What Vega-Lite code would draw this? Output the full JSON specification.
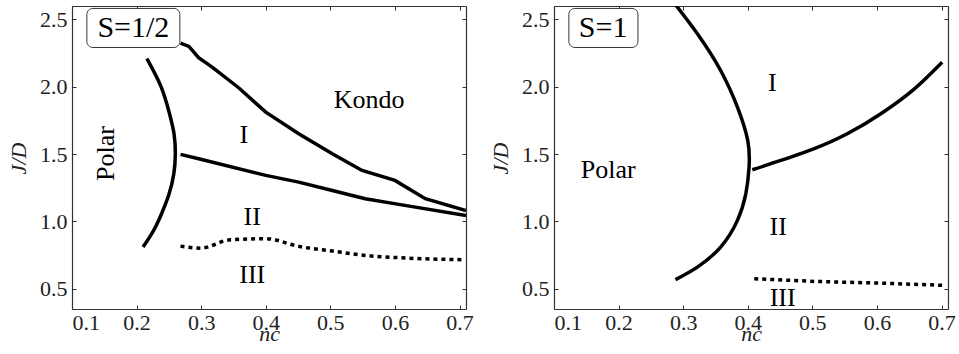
{
  "$schema": "https://vega.github.io/schema/vega-lite/v6.json",
  "padding": {"left": 7, "top": 5, "right": 0, "bottom": 0},
  "background": "white",
  "spacing": 15,
  "config": {
    "view": {"stroke": null},
    "font": "Liberation Serif",
    "style": {"guide-label": {"font": "Liberation Serif"}, "guide-title": {"font": "Liberation Serif"}},
    "axis": {
      "grid": false,
      "domainColor": "#333",
      "domainWidth": 1.2,
      "tickColor": "#333",
      "tickSize": -4,
      "tickWidth": 1,
      "labelFont": "Liberation Serif",
      "labelFontSize": 22,
      "labelColor": "#222",
      "titleFont": "Liberation Serif",
      "titleFontStyle": "italic",
      "titleFontWeight": "normal",
      "titleFontSize": 22,
      "titleColor": "#222"
    }
  },
  "hconcat": [
    {
      "width": 394,
      "height": 303,
      "resolve": {"axis": {"x": "independent", "y": "independent"}},
      "layer": [
        {
          "data": {"values": [
            {"curve": "A", "i": 1, "x": 0.216, "y": 2.21},
            {"curve": "A", "i": 2, "x": 0.238, "y": 2.0},
            {"curve": "A", "i": 3, "x": 0.251, "y": 1.8},
            {"curve": "A", "i": 4, "x": 0.258, "y": 1.65},
            {"curve": "A", "i": 5, "x": 0.26, "y": 1.50},
            {"curve": "A", "i": 6, "x": 0.2575, "y": 1.35},
            {"curve": "A", "i": 7, "x": 0.25, "y": 1.2},
            {"curve": "A", "i": 8, "x": 0.238, "y": 1.05},
            {"curve": "A", "i": 9, "x": 0.226, "y": 0.93},
            {"curve": "A", "i": 10, "x": 0.21, "y": 0.81}
          ]},
          "mark": {"type": "line", "color": "black", "strokeWidth": 3.5, "interpolate": "natural", "clip": true},
          "encoding": {
            "x": {"field": "x", "type": "quantitative", "scale": {"domain": [0.1, 0.71], "nice": false, "zero": false},
                  "axis": {"orient": "bottom", "values": [0.1, 0.2, 0.3, 0.4, 0.5, 0.6, 0.7], "format": ".1f", "labelPadding": 7, "labelFontSize": 22, "labelFont": "Liberation Serif", "titleFont": "Liberation Serif", "title": "nc", "titleBaseline": "alphabetic", "titleY": 31, "titleX": 197}},
            "y": {"field": "y", "type": "quantitative", "scale": {"domain": [0.35, 2.6], "nice": false, "zero": false},
                  "axis": {"orient": "left", "values": [0.5, 1.0, 1.5, 2.0, 2.5], "format": ".1f", "labelPadding": 9, "labelFontSize": 22, "labelFont": "Liberation Serif", "titleFont": "Liberation Serif", "title": "J/D", "titleBaseline": "alphabetic", "titleX": -47, "titleY": 152, "titleAngle": 270}},
            "order": {"field": "i", "type": "quantitative"}
          }
        },
        {
          "data": {"values": [
            {"curve": "B", "i": 1, "x": 0.268, "y": 2.324},
            {"curve": "B", "i": 2, "x": 0.281, "y": 2.30},
            {"curve": "B", "i": 3, "x": 0.296, "y": 2.216},
            {"curve": "B", "i": 4, "x": 0.317, "y": 2.146},
            {"curve": "B", "i": 5, "x": 0.358, "y": 1.993},
            {"curve": "B", "i": 6, "x": 0.40, "y": 1.812},
            {"curve": "B", "i": 7, "x": 0.451, "y": 1.651},
            {"curve": "B", "i": 8, "x": 0.503, "y": 1.503},
            {"curve": "B", "i": 9, "x": 0.549, "y": 1.379},
            {"curve": "B", "i": 10, "x": 0.60, "y": 1.305},
            {"curve": "B", "i": 11, "x": 0.647, "y": 1.169},
            {"curve": "B", "i": 12, "x": 0.71, "y": 1.08},
            {"curve": "C", "i": 1, "x": 0.268, "y": 1.498},
            {"curve": "C", "i": 2, "x": 0.296, "y": 1.466},
            {"curve": "C", "i": 3, "x": 0.40, "y": 1.342},
            {"curve": "C", "i": 4, "x": 0.451, "y": 1.292},
            {"curve": "C", "i": 5, "x": 0.503, "y": 1.23},
            {"curve": "C", "i": 6, "x": 0.554, "y": 1.169},
            {"curve": "C", "i": 7, "x": 0.606, "y": 1.127},
            {"curve": "C", "i": 8, "x": 0.71, "y": 1.044}
          ]},
          "mark": {"type": "line", "color": "black", "strokeWidth": 3.5, "clip": true},
          "encoding": {
            "x": {"field": "x", "type": "quantitative",
                  "axis": {"orient": "top", "values": [0.1, 0.2, 0.3, 0.4, 0.5, 0.6, 0.7], "labels": false, "title": null}},
            "y": {"field": "y", "type": "quantitative",
                  "axis": {"orient": "right", "values": [0.5, 1.0, 1.5, 2.0, 2.5], "labels": false, "title": null}},
            "detail": {"field": "curve"},
            "order": {"field": "i", "type": "quantitative"}
          }
        },
        {
          "data": {"values": [
            {"i": 1, "x": 0.268, "y": 0.817},
            {"i": 2, "x": 0.299, "y": 0.802},
            {"i": 3, "x": 0.345, "y": 0.864},
            {"i": 4, "x": 0.40, "y": 0.872},
            {"i": 5, "x": 0.451, "y": 0.815},
            {"i": 6, "x": 0.503, "y": 0.78},
            {"i": 7, "x": 0.554, "y": 0.748},
            {"i": 8, "x": 0.606, "y": 0.731},
            {"i": 9, "x": 0.705, "y": 0.716}
          ]},
          "mark": {"type": "line", "color": "black", "strokeWidth": 3.5, "strokeDash": [4, 4], "interpolate": "monotone", "clip": true},
          "encoding": {
            "x": {"field": "x", "type": "quantitative", "axis": null},
            "y": {"field": "y", "type": "quantitative", "axis": null},
            "order": {"field": "i", "type": "quantitative"}
          }
        },
        {
          "data": {"values": [{"x1": 0.123, "x2": 0.267, "y1": 2.292, "y2": 2.582}]},
          "mark": {"type": "rect", "fill": "white", "stroke": "#333", "strokeWidth": 1, "cornerRadius": 6},
          "encoding": {
            "x": {"field": "x1", "type": "quantitative", "axis": null},
            "x2": {"field": "x2"},
            "y": {"field": "y1", "type": "quantitative", "axis": null},
            "y2": {"field": "y2"}
          }
        },
        {
          "data": {"values": [{"label": "S=1/2", "x": 0.195, "y": 2.437}]},
          "mark": {"type": "text", "fontSize": 30, "color": "black", "align": "center", "baseline": "middle", "font": "Liberation Serif"},
          "encoding": {
            "x": {"field": "x", "type": "quantitative", "axis": null},
            "y": {"field": "y", "type": "quantitative", "axis": null},
            "text": {"field": "label"}
          }
        },
        {
          "data": {"values": [
            {"label": "Kondo", "x": 0.56, "y": 1.90},
            {"label": "I", "x": 0.366, "y": 1.64},
            {"label": "II", "x": 0.379, "y": 1.03},
            {"label": "III", "x": 0.379, "y": 0.60}
          ]},
          "mark": {"type": "text", "fontSize": 26, "color": "black", "align": "center", "baseline": "middle", "font": "Liberation Serif"},
          "encoding": {
            "x": {"field": "x", "type": "quantitative", "axis": null},
            "y": {"field": "y", "type": "quantitative", "axis": null},
            "text": {"field": "label"}
          }
        },
        {
          "data": {"values": [{"label": "Polar", "x": 0.153, "y": 1.505}]},
          "mark": {"type": "text", "fontSize": 26, "color": "black", "align": "center", "baseline": "middle", "angle": 270, "font": "Liberation Serif"},
          "encoding": {
            "x": {"field": "x", "type": "quantitative", "axis": null},
            "y": {"field": "y", "type": "quantitative", "axis": null},
            "text": {"field": "label"}
          }
        }
      ]
    },
    {
      "width": 394,
      "height": 303,
      "resolve": {"axis": {"x": "independent", "y": "independent"}},
      "layer": [
        {
          "data": {"values": [
            {"curve": "A", "i": 1, "x": 0.280, "y": 2.66},
            {"curve": "A", "i": 2, "x": 0.322, "y": 2.394},
            {"curve": "A", "i": 3, "x": 0.358, "y": 2.121},
            {"curve": "A", "i": 4, "x": 0.384, "y": 1.849},
            {"curve": "A", "i": 5, "x": 0.40, "y": 1.60},
            {"curve": "A", "i": 6, "x": 0.402, "y": 1.403},
            {"curve": "A", "i": 7, "x": 0.397, "y": 1.206},
            {"curve": "A", "i": 8, "x": 0.384, "y": 1.008},
            {"curve": "A", "i": 9, "x": 0.358, "y": 0.81},
            {"curve": "A", "i": 10, "x": 0.322, "y": 0.661},
            {"curve": "A", "i": 11, "x": 0.288, "y": 0.568}
          ]},
          "mark": {"type": "line", "color": "black", "strokeWidth": 3.5, "interpolate": "natural", "clip": true},
          "encoding": {
            "x": {"field": "x", "type": "quantitative", "scale": {"domain": [0.1, 0.71], "nice": false, "zero": false},
                  "axis": {"orient": "bottom", "values": [0.1, 0.2, 0.3, 0.4, 0.5, 0.6, 0.7], "format": ".1f", "labelPadding": 7, "labelFontSize": 22, "labelFont": "Liberation Serif", "titleFont": "Liberation Serif", "title": "nc", "titleBaseline": "alphabetic", "titleY": 31, "titleX": 197}},
            "y": {"field": "y", "type": "quantitative", "scale": {"domain": [0.35, 2.6], "nice": false, "zero": false},
                  "axis": {"orient": "left", "values": [0.5, 1.0, 1.5, 2.0, 2.5], "format": ".1f", "labelPadding": 9, "labelFontSize": 22, "labelFont": "Liberation Serif", "titleFont": "Liberation Serif", "title": "J/D", "titleBaseline": "alphabetic", "titleX": -47, "titleY": 152, "titleAngle": 270}},
            "order": {"field": "i", "type": "quantitative"}
          }
        },
        {
          "data": {"values": [
            {"i": 1, "x": 0.407, "y": 1.384},
            {"i": 2, "x": 0.451, "y": 1.453},
            {"i": 3, "x": 0.503, "y": 1.54},
            {"i": 4, "x": 0.554, "y": 1.651},
            {"i": 5, "x": 0.606, "y": 1.80},
            {"i": 6, "x": 0.658, "y": 1.985},
            {"i": 7, "x": 0.701, "y": 2.183}
          ]},
          "mark": {"type": "line", "color": "black", "strokeWidth": 3.5, "interpolate": "monotone", "clip": true},
          "encoding": {
            "x": {"field": "x", "type": "quantitative",
                  "axis": {"orient": "top", "values": [0.1, 0.2, 0.3, 0.4, 0.5, 0.6, 0.7], "labels": false, "title": null}},
            "y": {"field": "y", "type": "quantitative",
                  "axis": {"orient": "right", "values": [0.5, 1.0, 1.5, 2.0, 2.5], "labels": false, "title": null}},
            "order": {"field": "i", "type": "quantitative"}
          }
        },
        {
          "data": {"values": [
            {"i": 1, "x": 0.41, "y": 0.575},
            {"i": 2, "x": 0.503, "y": 0.555},
            {"i": 3, "x": 0.606, "y": 0.542},
            {"i": 4, "x": 0.707, "y": 0.525}
          ]},
          "mark": {"type": "line", "color": "black", "strokeWidth": 3.5, "strokeDash": [4, 4], "clip": true},
          "encoding": {
            "x": {"field": "x", "type": "quantitative", "axis": null},
            "y": {"field": "y", "type": "quantitative", "axis": null},
            "order": {"field": "i", "type": "quantitative"}
          }
        },
        {
          "data": {"values": [{"x1": 0.123, "x2": 0.23, "y1": 2.292, "y2": 2.582}]},
          "mark": {"type": "rect", "fill": "white", "stroke": "#333", "strokeWidth": 1, "cornerRadius": 6},
          "encoding": {
            "x": {"field": "x1", "type": "quantitative", "axis": null},
            "x2": {"field": "x2"},
            "y": {"field": "y1", "type": "quantitative", "axis": null},
            "y2": {"field": "y2"}
          }
        },
        {
          "data": {"values": [{"label": "S=1", "x": 0.176, "y": 2.437}]},
          "mark": {"type": "text", "fontSize": 30, "color": "black", "align": "center", "baseline": "middle", "font": "Liberation Serif"},
          "encoding": {
            "x": {"field": "x", "type": "quantitative", "axis": null},
            "y": {"field": "y", "type": "quantitative", "axis": null},
            "text": {"field": "label"}
          }
        },
        {
          "data": {"values": [
            {"label": "Polar", "x": 0.184, "y": 1.38},
            {"label": "I", "x": 0.438, "y": 2.03},
            {"label": "II", "x": 0.447, "y": 0.96},
            {"label": "III", "x": 0.454, "y": 0.435}
          ]},
          "mark": {"type": "text", "fontSize": 26, "color": "black", "align": "center", "baseline": "middle", "font": "Liberation Serif"},
          "encoding": {
            "x": {"field": "x", "type": "quantitative", "axis": null},
            "y": {"field": "y", "type": "quantitative", "axis": null},
            "text": {"field": "label"}
          }
        }
      ]
    }
  ]
}
